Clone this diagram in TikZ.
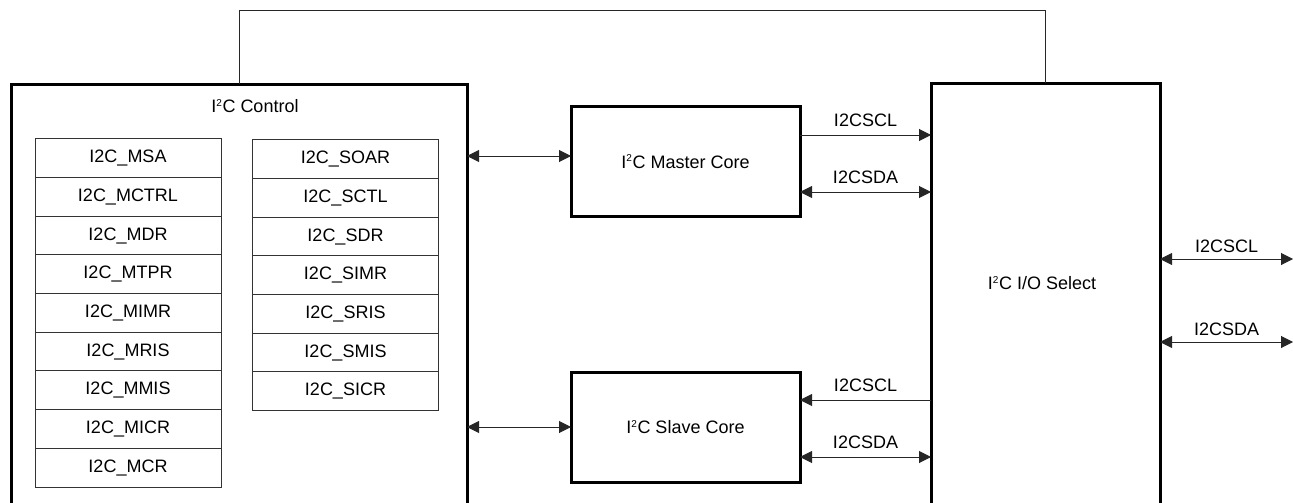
\documentclass[tikz,border=0pt]{standalone}
\usepackage{fontspec}
\setmainfont{Liberation Sans}
\usetikzlibrary{arrows.meta}
\tikzset{
  bigbox/.style={draw=black, line width=3pt, inner sep=0pt, outer sep=0pt},
  corebox/.style={draw=black, line width=3pt, inner sep=0pt, outer sep=0pt, minimum width=229pt, minimum height=110pt},
  reg/.style={draw=black!80, line width=1pt, inner sep=0pt, outer sep=0pt, minimum width=186pt, minimum height=38.67pt},
  lbl/.style={inner sep=0pt},
  sig/.style={line width=1pt, draw=black!85},
  tip/.style={-{Triangle[length=12pt,width=12pt]}},
  tips/.style={{Triangle[length=12pt,width=12pt]}-{Triangle[length=12pt,width=12pt]}},
}
\newcommand{\sq}{\textsuperscript{\fontsize{10}{10}\selectfont 2}}
\begin{document}
\begin{tikzpicture}[x=1pt,y=-1pt,font=\fontsize{18}{21}\selectfont]
\useasboundingbox (0,0) rectangle (1293,503);
\clip (0,0) rectangle (1293,503);
% big boxes (open below the picture)
\node[bigbox, minimum width=456pt, minimum height=440pt] (ctrl) at (239,304) {};
\node[bigbox, minimum width=229pt, minimum height=440pt] (io) at (1045.5,303) {};
\node[lbl] (ctrllbl) at (255,106) {I\sq C Control};
\node[lbl] (iolbl) at (1042,283) {I\sq C I/O Select};
% cores
\node[corebox] (master) at (685.5,161.5) {I\sq C Master Core};
\node[corebox] (slave) at (685.5,427) {I\sq C Slave Core};
% master registers
\foreach \n [count=\i from 0] in {MSA,MCTRL,MDR,MTPR,MIMR,MRIS,MMIS,MICR,MCR}{
  \node[reg] (m\i) at (128,158.3+38.67*\i) {I2C\_\n};
}
\foreach \n [count=\i from 0] in {SOAR,SCTL,SDR,SIMR,SRIS,SMIS,SICR}{
  \node[reg] (s\i) at (345.5,159.3+38.67*\i) {I2C\_\n};
}
% top loop connector
\coordinate (tl) at (239,11);
\coordinate (tr) at (1045.5,11);
\draw[sig] (ctrl.north) -- (tl) -- (tr) -- (io.north);
% control <-> cores
\draw[sig, tips] (ctrl.east |- 0,156) -- (master.west |- 0,156);
\draw[sig, tips] (ctrl.east |- 0,427) -- (slave.west |- 0,427);
% master <-> io
\draw[sig, tip] (master.east |- 0,135) -- node[lbl, above=8pt] (mscl) {I2CSCL} (io.west |- 0,135);
\draw[sig, tips] (master.east |- 0,192) -- node[lbl, above=8pt] (msda) {I2CSDA} (io.west |- 0,192);
% slave <-> io
\draw[sig, tip] (io.west |- 0,400) -- node[lbl, above=8pt] (sscl) {I2CSCL} (slave.east |- 0,400);
\draw[sig, tips] (slave.east |- 0,457) -- node[lbl, above=8pt] (ssda) {I2CSDA} (io.west |- 0,457);
% outside
\coordinate (oscl) at (1293,259);
\coordinate (osda) at (1293,342);
\draw[sig, tips] (io.east |- oscl) -- node[lbl, above=6pt] (oscllbl) {I2CSCL} (oscl);
\draw[sig, tips] (io.east |- osda) -- node[lbl, above=6pt] (osdalbl) {I2CSDA} (osda);
\end{tikzpicture}
\end{document}
